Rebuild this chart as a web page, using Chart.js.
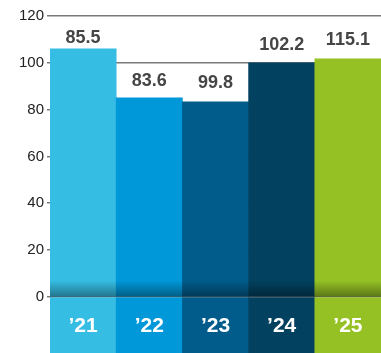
<!DOCTYPE html>
<html lang="en">
  <head>
    <meta charset="UTF-8" />
    <title>Yearly bars</title>
    <script src="https://cdn.jsdelivr.net/npm/chart.js@4"></script>
    <style>
      html, body { margin: 0; padding: 0; background: #fff; }
    </style>
  </head>
  <body>
    <canvas id="myChart" width="381" height="353"></canvas>
    <script>
      // data
      let years = ["\u201921", "\u201922", "\u201923", "\u201924", "\u201925"];
      let barValues = [106, 85, 83.3, 100, 101.7];
      let valueLabels = ["85.5", "83.6", "99.8", "102.2", "115.1"];
      let barColors = ["#36bde3", "#0098d8", "#015c8c", "#02415f", "#95c125"];
      let bandDepth = [-24, -24, -24, -24, -24];
      let yTicks = { min: -24, max: 120, step: 20 };

      let labelPlugin = {
        id: "labels",
        afterDatasetsDraw(chart, args, opts) {
          let ctx = chart.ctx;
          let y = chart.scales.y;
          let bars = chart.getDatasetMeta(0).data;
          let zero = y.getPixelForValue(0);
          let top = y.getPixelForValue(7);
          ctx.save();
          // soft shadow at the foot of each bar
          bars.forEach((bar) => {
            let g = ctx.createLinearGradient(0, top, 0, zero);
            g.addColorStop(0, "rgba(0,0,0,0)");
            g.addColorStop(1, "rgba(0,0,0,0.38)");
            ctx.fillStyle = g;
            ctx.fillRect(bar.x - bar.width / 2, top, bar.width, zero - top);
          });
          ctx.textAlign = "center";
          ctx.textBaseline = "middle";
          bars.forEach((bar, i) => {
            ctx.fillStyle = "#454545";
            ctx.font = "bold 18px 'Liberation Sans Narrow', 'Liberation Sans', sans-serif";
            ctx.fillText(valueLabels[i], bar.x, bar.y - opts.gaps[i]);
            ctx.fillStyle = "#ffffff";
            ctx.font = "bold 21px 'Liberation Sans', Arial, sans-serif";
            ctx.fillText(years[i], bar.x, (zero + chart.chartArea.bottom) / 2 + 1);
          });
          ctx.restore();
        },
      };

      let config = {
        type: "bar",
        data: {
          labels: years,
          datasets: [
            { data: barValues, backgroundColor: barColors, borderWidth: 0 },
            { data: bandDepth, backgroundColor: barColors, borderWidth: 0 },
          ],
        },
        options: {
          responsive: false,
          animation: false,
          barPercentage: 1,
          categoryPercentage: 1,
          layout: { padding: { top: 16, right: 0, bottom: 0, left: 0 } },
          plugins: {
            legend: { display: false },
            tooltip: { enabled: false },
            labels: { gaps: [11, 17, 19, 18, 19] },
          },
          scales: {
            x: {
              stacked: true,
              display: false,
            },
            y: {
              stacked: true,
              min: yTicks.min,
              max: yTicks.max,
              border: { display: false },
              grid: {
                color: "#7a7a7a",
                lineWidth: 1.5,
                tickLength: 3,
              },
              ticks: {
                stepSize: yTicks.step,
                padding: 3,
                color: "#222",
                font: { family: "'Liberation Sans Narrow', 'Liberation Sans', sans-serif", size: 15 },
                callback: (v) => (v < 0 ? null : v),
              },
              afterFit: (axis) => {
                axis.width = 50;
                axis.paddingTop = 0;
                axis.paddingBottom = 0;
              },
            },
          },
        },
        plugins: [labelPlugin],
      };

      let myChart = new Chart(document.getElementById("myChart"), config);
    </script>
  </body>
</html>
